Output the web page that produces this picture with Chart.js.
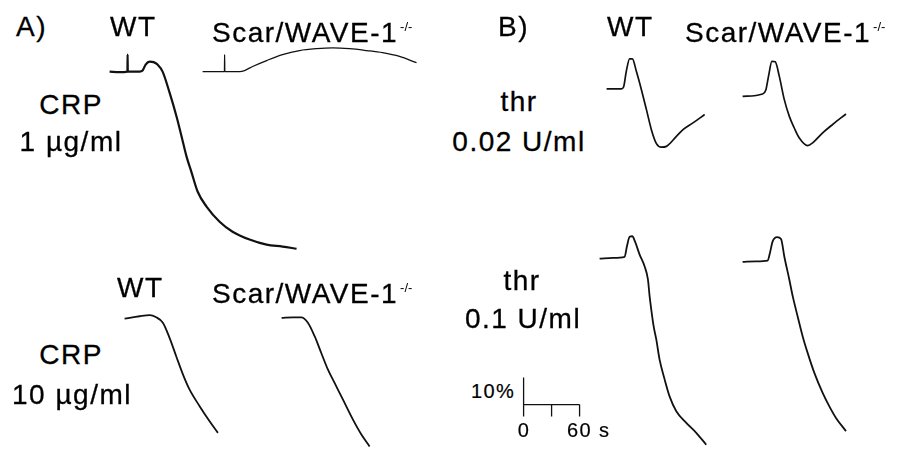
<!DOCTYPE html>
<html>
<head>
<meta charset="utf-8">
<script src="https://cdn.jsdelivr.net/npm/chart.js@4.4.1/dist/chart.umd.min.js"></script>
<style>
  html, body { margin: 0; padding: 0; background: #fff; }
  body { width: 900px; height: 449px; position: relative; overflow: hidden; }
  .panel { position: absolute; }
  .lbl {
    position: absolute;
    font-family: "Liberation Sans", Arial, sans-serif;
    font-size: 28px;
    line-height: 28px;
    letter-spacing: 1.5px;
    color: #000;
    -webkit-text-stroke: 0.3px #000;
    white-space: nowrap;
  }
  .lbl.center { transform: translateX(-50%); }
  .lbl.small { font-size: 20px; line-height: 20px; letter-spacing: 1.4px; -webkit-text-stroke: 0.2px #000; }
  .sup { font-size: 13px; letter-spacing: 0; vertical-align: 11px; margin-left: 2px; -webkit-text-stroke: 0; }
</style>
</head>
<body>
<script>
// aggregation traces: time in s after start of recording, aggregation in % (downwards)
const crp1WtTime = [0, 10.7, 19.1, 19.3, 19.5, 32.2, 35.4, 38.6, 42.9, 47.2, 51.4, 56.8, 64.3, 71.8, 77.2, 82.5, 87.9, 94.3, 103.9, 117.9, 131.8, 150, 168.3, 185.4, 200.4];
const crp1WtAgg = [0, 0.2, 0, -6.3, 0, 0, -0.4, -2.6, -3.7, -3.5, -2.6, 0, 7.8, 16.7, 24.1, 31.5, 37.4, 44.4, 50, 55.6, 59.3, 62.2, 64.1, 64.8, 65.6];

const crp1KoTime = [0, 12.9, 23.4, 23.6, 23.8, 39.7, 45.0, 53.6, 68.6, 85.7, 103.9, 122.1, 139.3, 157.5, 175.8, 192.9, 211.1, 229.3];
const crp1KoAgg = [0, 0, 0, -6.3, 0, 0, -0.4, -1.9, -4.1, -6.3, -7.8, -8.5, -8.8, -8.5, -7.8, -7.0, -5.6, -3.3];

const crp10WtTime = [0, 16.1, 26.8, 33.9, 41, 48.2, 55.3, 62.5, 69.7, 80.4, 91.1, 100.0];
const crp10WtAgg = [0.4, -0.5, -0.9, -0.1, 1.9, 7.5, 14.3, 21, 26.7, 32.8, 38.4, 42.7];

const crp10KoTime = [0, 12.5, 21.1, 28.2, 35.4, 42.5, 49.7, 56.8, 65.8, 76.5, 85.5, 94.3];
const crp10KoAgg = [0.1, -0.1, -0.1, 1.9, 6.9, 13.1, 19.3, 24.2, 30.4, 37.8, 43.3, 47.7];

const thr002WtTime = [0, 15.8, 18.2, 21.1, 24.7, 27.6, 31.9, 37.3, 42.7, 48.0, 53.4, 58.8, 64.1, 74.8, 81.9, 92.6, 105.1];
const thr002WtAgg = [0.1, 0.1, -0.6, -6.4, -11, -11, -6.4, 0.4, 7.8, 15.2, 20.4, 21.7, 21.4, 17.7, 15.2, 12.7, 9.6];

const thr002KoTime = [0, 21.4, 25, 27.8, 31.4, 35, 39.3, 44.7, 50.1, 55.4, 60.8, 69.7, 75.1, 85.8, 96.5, 110.8];
const thr002KoAgg = [0.3, -0.6, -2.2, -7.2, -12.7, -12.5, -7.2, 1.5, 7.7, 12, 15.7, 18.5, 17.5, 13.8, 10.7, 6.8];

const thr01WtTime = [0, 14.3, 26.8, 29.3, 32.2, 35.0, 37.9, 42.9, 48.2, 51.8, 53.6, 55.4, 57.9, 60.8, 64.3, 69.7, 75.0, 82.2, 92.9, 103.6, 114.3];
const thr01WtAgg = [0.4, 0.1, -0.3, -4.2, -7.7, -7.9, -6.0, -1.1, 3.2, 8.1, 14.3, 19.3, 25.4, 30.4, 37.8, 45.1, 51.4, 56.9, 61.2, 64.9, 69.3];

const thr01KoTime = [0, 14.3, 26.8, 29.3, 32.2, 36.9, 41.2, 44.7, 50.1, 53.7, 59.0, 64.4, 69.7, 76.9, 85.8, 93.0, 100.1, 110.8];
const thr01KoAgg = [0.1, -0.1, -0.4, -3.2, -7.5, -9.1, -8.4, -1.9, 6.7, 12.8, 20.3, 27.7, 33.8, 41.2, 48.6, 53.6, 57.9, 62.8];

// scale bar
const scaleTicks = [0, 30, 60];   // s
const scalePct = 10;              // %

const PX_PER_S = 0.933;
const PX_PER_PCT = 2.7;
const X_MIN = -6, Y_MIN = -18, Y_MAX = 72;
const INK = "#111";

function toPoints(xs, ys) {
  return xs.map((x, i) => ({ x: x, y: ys[i] }));
}

function makePanel(left, base, xSpan, datasets) {
  const w = Math.round((xSpan - X_MIN) * PX_PER_S);
  const h = Math.round((Y_MAX - Y_MIN) * PX_PER_PCT);
  const div = document.createElement("div");
  div.className = "panel";
  div.style.left = (left + X_MIN * PX_PER_S) + "px";
  div.style.top = (base + Y_MIN * PX_PER_PCT) + "px";
  const canvas = document.createElement("canvas");
  canvas.width = w;
  canvas.height = h;
  canvas.style.width = w + "px";
  canvas.style.height = h + "px";
  div.appendChild(canvas);
  document.body.appendChild(div);

  return new Chart(canvas, {
    type: "scatter",
    data: { datasets: datasets },
    options: {
      responsive: false,
      animation: false,
      events: [],
      layout: { padding: 0 },
      plugins: { legend: { display: false }, tooltip: { enabled: false } },
      scales: {
        x: { type: "linear", display: false, min: X_MIN, max: X_MIN + w / PX_PER_S },
        y: { type: "linear", display: false, reverse: true, min: Y_MIN, max: Y_MIN + h / PX_PER_PCT },
      },
    },
  });
}

function trace(xs, ys, width) {
  return {
    data: toPoints(xs, ys),
    showLine: true,
    pointRadius: 0,
    borderColor: INK,
    borderWidth: width,
    cubicInterpolationMode: "monotone",
  };
}

function addTrace(left, base, xs, ys, width) {
  makePanel(left, base, xs[xs.length - 1] + 6, [trace(xs, ys, width)]);
}

addTrace(110, 72, crp1WtTime, crp1WtAgg, 2.2);
addTrace(203, 72, crp1KoTime, crp1KoAgg, 1.3);
addTrace(125, 318, crp10WtTime, crp10WtAgg, 1.8);
addTrace(282, 318, crp10KoTime, crp10KoAgg, 1.8);
addTrace(607, 89, thr002WtTime, thr002WtAgg, 1.7);
addTrace(743, 96, thr002KoTime, thr002KoAgg, 1.7);
addTrace(600, 258, thr01WtTime, thr01WtAgg, 1.8);
addTrace(743, 262, thr01KoTime, thr01KoAgg, 1.8);

// scale bar: 10 % vertical, 60 s horizontal with ticks hanging below
const tickPct = 12 / PX_PER_PCT;
const first = scaleTicks[0], last = scaleTicks[scaleTicks.length - 1];
const barSets = [
  toPoints([first, first], [-scalePct, tickPct]),
  toPoints([first, last], [0, 0]),
].concat(scaleTicks.slice(1).map(t => toPoints([t, t], [0, tickPct])))
 .map(pts => ({ data: pts, showLine: true, pointRadius: 0, borderColor: INK, borderWidth: 1.3 }));
makePanel(524, 405, last + 6, barSets);

// labels
function label(html, x, baseline, cls) {
  const d = document.createElement("div");
  d.className = "lbl" + (cls ? " " + cls : "");
  d.innerHTML = html;
  const small = cls && cls.indexOf("small") >= 0;
  d.style.left = x + "px";
  d.style.top = (baseline - (small ? 17 : 23.8)) + "px";
  document.body.appendChild(d);
}

const ko = 'Scar/WAVE-1<span class="sup">-/-</span>';
label("A)", 16, 37);
label("WT", 110, 37);
label(ko, 212, 37);
label("B)", 498, 37);
label("WT", 607, 37);
label(ko, 685, 37);

label("CRP", 71, 115, "center");
label("1 \u00b5g/ml", 71, 152, "center");
label("WT", 117, 298);
label(ko, 212, 298);
label("CRP", 71, 365, "center");
label("10 \u00b5g/ml", 72, 405, "center");

label("thr", 519, 112, "center");
label("0.02 U/ml", 519, 152, "center");
label("thr", 522, 291, "center");
label("0.1 U/ml", 523, 329, "center");

label("10%", 471, 398, "small");
label("0", 524, 437, "small center");
label("60 s", 567, 437, "small");
</script>
</body>
</html>
